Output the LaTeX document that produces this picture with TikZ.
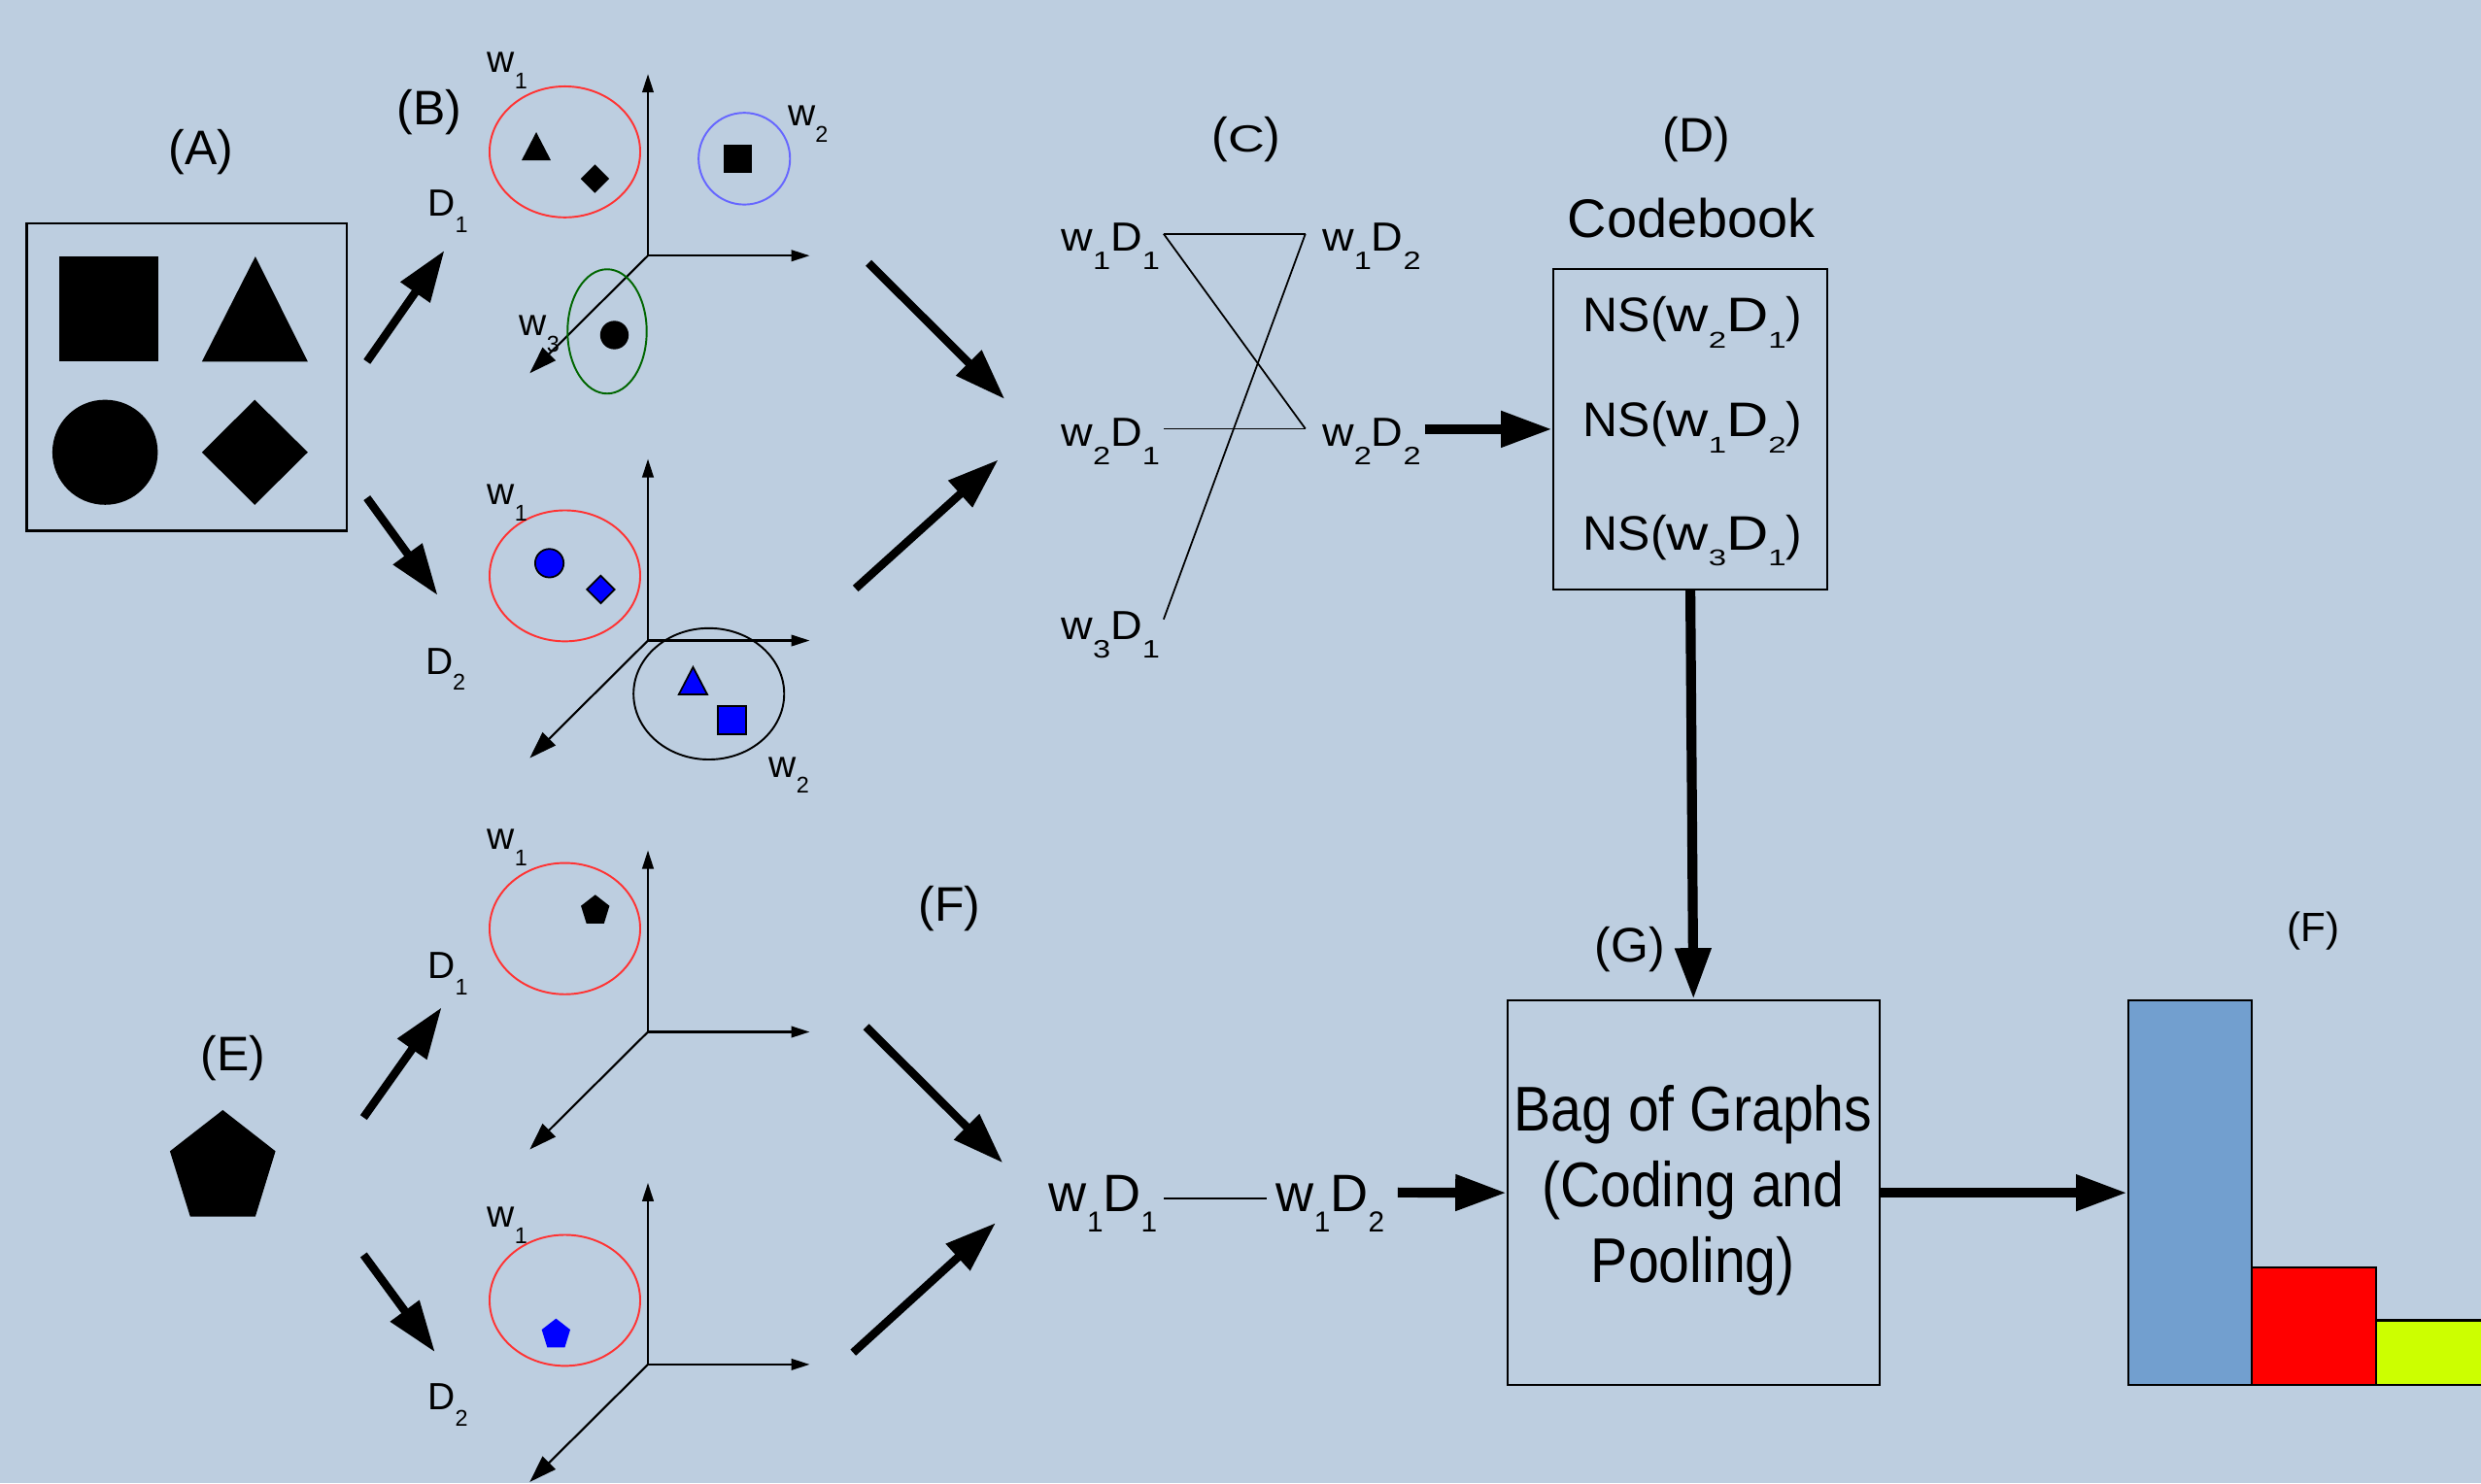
\documentclass[tikz,border=0pt]{standalone}
\usepackage{fontspec}
\setmainfont{Liberation Sans}
\usetikzlibrary{arrows.meta,calc}
\definecolor{bgcol}{HTML}{BDCEE0}
\definecolor{ringred}{HTML}{FF3333}
\definecolor{ringblue}{HTML}{6666FF}
\definecolor{ringgreen}{HTML}{006600}
\definecolor{barblue}{HTML}{729FCF}
\definecolor{barred}{HTML}{FF0000}
\definecolor{baryellow}{HTML}{CCFF00}
\newcommand\pxunit{0.162883mm}
% subscript: scaled digit hanging just below the baseline
\newcommand\lsub[2][0.6]{\raisebox{-#1\dimexpr0.72em\relax}{\scalebox{#1}{#2}}}
% subscript with separate horizontal and vertical scale
\newcommand\ssub[3]{\raisebox{-#2\dimexpr0.72em\relax}{\scalebox{#1}[#2]{#3}}}
% word/dimension pair as printed in the graph panel
\newcommand\wdpair[2]{\scalebox{1.08}[1]{w\ssub{0.72}{0.62}{#1}D\ssub{0.72}{0.62}{#2}}}
% neighbourhood entry of the codebook
\newcommand\nsent[2]{NS(\scalebox{1.2}[1]{w\ssub{0.55}{0.47}{#1}D\ssub{0.55}{0.47}{#2}})}
\tikzset{
  pentshape/.pic={\path[pic actions] (0,-33.7) -- (33.3,-7.7) -- (20.6,33.6) -- (-20.6,33.6) -- (-33.4,-7.7) -- cycle;},
  lab/.style={inner sep=0, font=\fontsize{14.2pt}{17pt}\selectfont},
  flab/.style={inner sep=0, font=\fontsize{12pt}{14pt}\selectfont},
  wlab/.style={inner sep=0, anchor=base west, font=\fontsize{11.1pt}{13pt}\selectfont},
  clab/.style={inner sep=0, anchor=base west, font=\fontsize{11.9pt}{14pt}\selectfont},
  blab/.style={inner sep=0, anchor=base west, font=\fontsize{15.4pt}{18pt}\selectfont},
  nslab/.style={inner sep=0, anchor=base, font=\fontsize{14.2pt}{17pt}\selectfont},
  box/.style={draw, line width=0.6pt, inner sep=0},
  fat/.style={line width=2.4pt, -{Triangle[length=15pt,width=10pt]}},
  fatter/.style={line width=2.9pt, -{Triangle[length=15pt,width=10pt]}},
  axis/.style={line width=0.6pt, -{Triangle[length=5.4pt,width=3.3pt]}},
  daxis/.style={line width=0.6pt, -{Triangle[length=8pt,width=5.3pt]}},
  ring/.style={line width=0.55pt},
  thin/.style={line width=0.5pt},
  shp/.style={draw=black, line width=0.5pt},
}
\begin{document}
\begin{tikzpicture}[x=0.162883mm, y=-0.162883mm]
\fill[bgcol] (0,0) rectangle (1568,937.5);
\useasboundingbox (0,0) rectangle (1568,937.5);
\clip (0,0) rectangle (1568,937.5);

% ---------- (A) shapes of the training image ----------
\node[lab] (labA) at (127,95.9) {(A)};
\node[box, minimum width=32.95mm, minimum height=31.63mm] (imgA) at (118.05,238.4) {};
\fill (37.4,162.1) rectangle (100.1,228.6);
\fill (161.4,162.1) -- (194.5,228.6) -- (127.6,228.6) -- cycle;
\fill (66.4,285.9) ellipse [x radius=33.3*\pxunit, y radius=33.2*\pxunit];
\fill (161,252.7) -- (194.5,285.9) -- (161,319.1) -- (127.6,285.9) -- cycle;

\coordinate (a1s) at (231.9,228.6); \coordinate (a1e) at (280.9,158.3);
\coordinate (a2s) at (231.9,314.7); \coordinate (a2e) at (276.6,376.3);
\draw[fat] (a1s) -- (a1e);
\draw[fat] (a2s) -- (a2e);

% ---------- (B) word spaces ----------
\node[lab] (labB) at (271.4,71) {(B)};
\foreach \oy/\n in {161.6/1,404.9/2,652.3/3,862.5/4}{
  \coordinate (o\n) at (409.5,\oy);
  \coordinate (ou\n) at (409.5,\oy-114.8);
  \coordinate (or\n) at (511.7,\oy);
  \coordinate (od\n) at (334.8,\oy+74.3);
  \draw[axis] (o\n) -- (ou\n);
  \draw[axis] (o\n) -- (or\n);
  \draw[daxis] (o\n) -- (od\n);
}

% first space (D1)
\draw[ring, ringred] (357,96) ellipse [x radius=47.6*\pxunit, y radius=41.4*\pxunit];
\draw[ring, ringblue] (470.4,100.3) ellipse [x radius=28.9*\pxunit, y radius=29*\pxunit];
\draw[ring, ringgreen] (383.7,209.5) ellipse [x radius=25*\pxunit, y radius=39.3*\pxunit];
\fill (338.9,83.5) -- (348.1,101.3) -- (329.7,101.3) -- cycle;
\fill (376,104) -- (385,113) -- (376,122) -- (367,113) -- cycle;
\fill (457.3,91.4) rectangle (475.3,109.4);
\fill (388.3,211.8) circle [radius=9*\pxunit];
\node[wlab] (w1a) at (307.6,45.9) {w\lsub{1}};
\node[wlab] (w2a) at (497.6,79.6) {w\lsub{2}};
\node[wlab] (w3a) at (327.8,211.9) {w\lsub{3}};
\node[wlab] (d1a) at (270,136.5) {D\lsub{1}};

% second space (D2)
\draw[ring, ringred] (357,364) ellipse [x radius=47.6*\pxunit, y radius=41.4*\pxunit];
\draw[ring, black] (448,438.6) ellipse [x radius=47.6*\pxunit, y radius=41.5*\pxunit];
\filldraw[shp, fill=blue] (347.2,356) circle [radius=9*\pxunit];
\filldraw[shp, fill=blue] (379.7,363.9) -- (388.4,372.6) -- (379.7,381.3) -- (371,372.6) -- cycle;
\filldraw[shp, fill=blue] (438,421.7) -- (447,439) -- (429,439) -- cycle;
\filldraw[shp, fill=blue] (453.6,446.2) rectangle (471.6,464.2);
\node[wlab] (w1b) at (307.6,318.8) {w\lsub{1}};
\node[wlab] (d2b) at (268.5,426.1) {D\lsub{2}};
\node[wlab] (w2b) at (485.6,491.2) {w\lsub{2}};

\coordinate (m1s) at (548.9,166.2); \coordinate (m1e) at (635,252.3);
\coordinate (m2s) at (540.7,372);   \coordinate (m2e) at (630.9,290.6);
\draw[fat] (m1s) -- (m1e);
\draw[fat] (m2s) -- (m2e);

% ---------- (C) graph of words ----------
\node[lab] (labC) at (787.7,87.9) {(\scalebox{1.05}[0.78]{C})};
\node[clab] (w1d1) at (670.3,158.9) {\wdpair{1}{1}};
\node[clab] (w1d2) at (835.3,158.9) {\wdpair{1}{2}};
\node[clab] (w2d1) at (670.3,282.2) {\wdpair{2}{1}};
\node[clab] (w2d2) at (835.3,282.2) {\wdpair{2}{2}};
\node[clab] (w3d1) at (670.3,404.4) {\wdpair{3}{1}};
\coordinate (c1) at (735.4,147.8);
\coordinate (c2) at (825,147.8);
\coordinate (c3) at (735.4,271);
\coordinate (c4) at (825,271);
\coordinate (c5) at (735.4,391.5);
\draw[thin] (c1) -- (c2);
\draw[thin] (c1) -- (c4);
\draw[thin] (c2) -- (c5);
\draw[thin] (c3) -- (c4);

% ---------- (D) codebook ----------
\node[lab] (labD) at (1072,87.9) {(D)};
\node[inner sep=0, anchor=base, font=\fontsize{15.9pt}{19pt}\selectfont] (cbt) at (1069,149.8) {Codebook};
\node[box, minimum width=28.24mm, minimum height=32.93mm] (code) at (1068.3,271.3) {};
\node[nslab] (ns1) at (1069.8,209.8) {\nsent{2}{1}};
\node[nslab] (ns2) at (1069.8,275.8) {\nsent{1}{2}};
\node[nslab] (ns3) at (1069.8,347.5) {\nsent{3}{1}};
\coordinate (t1) at (900.4,271.3);
\draw[fatter] (t1) -- (code.west);

% ---------- (E) new image ----------
\node[lab] (labE) at (147.5,669) {(E)};
\pic[fill=black] at (140.8,735.4) {pentshape};
\coordinate (e1s) at (229.8,706.4); \coordinate (e1e) at (279.1,636.8);
\coordinate (e2s) at (229.8,793.2); \coordinate (e2e) at (274.9,854.7);
\draw[fat] (e1s) -- (e1e);
\draw[fat] (e2s) -- (e2e);

\draw[ring, ringred] (357,587) ellipse [x radius=47.6*\pxunit, y radius=41.5*\pxunit];
\draw[ring, ringred] (357,822) ellipse [x radius=47.6*\pxunit, y radius=41.4*\pxunit];
\pic[fill=black, scale=0.27] at (376.2,574.7) {pentshape};
\pic[fill=blue, scale=0.27] at (351.4,842.6) {pentshape};
\node[wlab] (w1c) at (307.6,536.7) {w\lsub{1}};
\node[wlab] (d1c) at (270,618.7) {D\lsub{1}};
\node[wlab] (w1e) at (307.6,775.8) {w\lsub{1}};
\node[wlab] (d2e) at (270,891.3) {D\lsub{2}};

\node[lab] (labF) at (600,574.4) {(F)};
\coordinate (m3s) at (547.4,649.1); \coordinate (m3e) at (633.8,735.1);
\coordinate (m4s) at (539.2,855);   \coordinate (m4e) at (629.3,773);
\draw[fat] (m3s) -- (m3e);
\draw[fat] (m4s) -- (m4e);

\node[blab] (nw1d1) at (662.6,765.7) {w\lsub[0.55]{1}D\lsub[0.55]{1}};
\node[blab] (nw1d2) at (806.2,765.7) {w\lsub[0.55]{1}D\lsub[0.55]{2}};
\coordinate (n1) at (735.5,757.6);
\coordinate (n2) at (800.6,757.6);
\draw[thin] (n1) -- (n2);

% ---------- (G) bag of graphs ----------
\node[lab] (labG) at (1030,600) {(G)};
\node[box, minimum width=38.26mm, minimum height=39.65mm] (bag) at (1070.25,754) {};
\node[inner sep=0, anchor=base, font=\fontsize{18.5pt}{22pt}\selectfont] (bg1) at (1070,715) {\scalebox{0.88}[1]{Bag of Graphs}};
\node[inner sep=0, anchor=base, font=\fontsize{18.5pt}{22pt}\selectfont] (bg2) at (1070,763) {\scalebox{0.88}[1]{(Coding and}};
\node[inner sep=0, anchor=base, font=\fontsize{18.5pt}{22pt}\selectfont] (bg3) at (1070,810.7) {\scalebox{0.88}[1]{Pooling)}};
\draw[fatter] (code.south) -- (bag.north);
\coordinate (t2) at (883.4,753.8);
\draw[fatter] (t2) -- (bag.west);

% ---------- histogram ----------
\node[flab] (labF2) at (1462,588.6) {(F)};
\node[draw, line width=0.6pt, fill=barblue, minimum width=12.7mm, minimum height=39.65mm, inner sep=0] (bar1) at (1384,754) {};
\filldraw[fill=barred, line width=0.6pt] (1423,801) rectangle (1501.6,875.7);
\filldraw[fill=baryellow, line width=0.6pt] (1501.6,834.6) rectangle (1575,875.7);
\draw[fatter] (bag.east) -- (bar1.west);
\end{tikzpicture}
\end{document}
